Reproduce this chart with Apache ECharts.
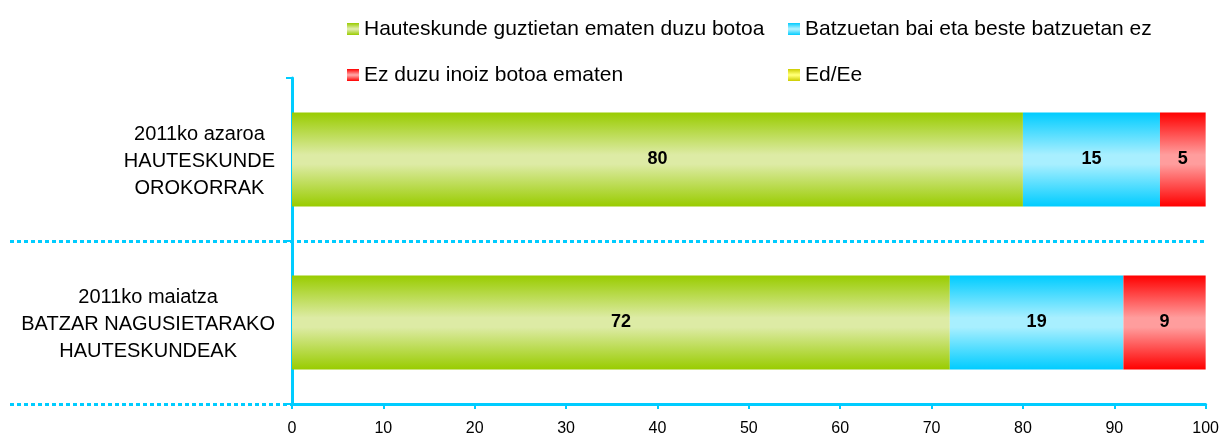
<!DOCTYPE html>
<html>
<head>
<meta charset="utf-8">
<script src="https://cdn.jsdelivr.net/npm/echarts@6/dist/echarts.min.js"></script>
<style>
    html, body { margin: 0; padding: 0; background: #fff; }
    #mychart { width: 1222px; height: 438px; overflow: hidden; }
</style>
</head>
<body>
<div id="mychart"></div>
<script>
    // categories bottom -> top (category axis grows upward)
    var categories = ['2011ko maiatza\nBATZAR NAGUSIETARAKO\nHAUTESKUNDEAK', '2011ko azaroa\nHAUTESKUNDE\nOROKORRAK']
    var names = ['Hauteskunde guztietan ematen duzu botoa', 'Batzuetan bai eta beste batzuetan ez', 'Ez duzu inoiz botoa ematen', 'Ed/Ee']
    var alwaysVote = [72, 80]
    var sometimesVote = [19, 15]
    var neverVote = [9, 5]
    var dontKnow = [0, 0]
    var xMin = 0, xMax = 100, xStep = 10

    var values = [alwaysVote, sometimesVote, neverVote, dontKnow]
    var edge = ['#99CC00', '#00CCFF', '#FF0000', '#CCCC00']
    var center = ['#DDEBA5', '#A8EFFF', '#FF9D9D', '#FFFF70']
    var axisColor = '#00CCFF'
    var font = '"Liberation Sans", Arial, sans-serif'

    function grad(i) {
        return new echarts.graphic.LinearGradient(0, 0, 0, 1, [
            {offset: 0, color: edge[i]},
            {offset: 0.45, color: center[i]},
            {offset: 0.55, color: center[i]},
            {offset: 1, color: edge[i]}
        ])
    }

    var series = []
    for (var i = 0; i < names.length; i++) {
        series.push({
            name: names[i],
            type: 'bar',
            stack: 'total',
            xAxisIndex: 1,
            yAxisIndex: 1,
            barWidth: 94,
            itemStyle: {color: grad(i)},
            label: {
                show: true,
                position: 'inside',
                color: '#000',
                fontWeight: 'bold',
                fontSize: 18,
                fontFamily: font,
                formatter: function (p) {
                    return p.value ? p.value : ''
                }
            },
            emphasis: {disabled: true},
            data: values[i]
        })
    }

    var legendBase = {
        orient: 'vertical',
        top: 17,
        padding: 0,
        itemGap: 22,
        itemWidth: 12,
        itemHeight: 12,
        icon: 'rect',
        selectedMode: false,
        textStyle: {fontSize: 21, lineHeight: 24, color: '#000', fontFamily: font}
    }

    var myChart = echarts.init(document.getElementById('mychart'))
    var option = {
        backgroundColor: '#fff',
        animation: false,
        legend: [
            Object.assign({}, legendBase, {left: 347, data: [names[0], names[2]]}),
            Object.assign({}, legendBase, {left: 788, data: [names[1], names[3]]})
        ],
        grid: [
            {left: 10, right: 16, top: 78, bottom: 34},
            {left: 292, right: 16, top: 78, bottom: 34}
        ],
        xAxis: [
            {gridIndex: 0, type: 'value', min: xMin, max: xMax, show: false},
            {
                gridIndex: 1,
                type: 'value',
                min: xMin,
                max: xMax,
                interval: xStep,
                axisLine: {show: true, lineStyle: {color: axisColor, width: 3}},
                axisTick: {show: true, length: 5, lineStyle: {color: axisColor, width: 2}},
                axisLabel: {margin: 17, color: '#000', fontSize: 16, fontFamily: font},
                splitLine: {show: false}
            }
        ],
        yAxis: [
            {
                gridIndex: 0,
                type: 'category',
                data: categories,
                axisLine: {show: false},
                axisTick: {show: false},
                axisLabel: {show: false},
                splitLine: {
                    show: true,
                    showMaxLine: false,
                    lineStyle: {color: axisColor, width: 3, type: [4, 3]}
                }
            },
            {
                gridIndex: 1,
                type: 'category',
                data: categories,
                axisLine: {show: true, lineStyle: {color: axisColor, width: 3}},
                axisTick: {show: true, length: 6, lineStyle: {color: axisColor, width: 2}},
                splitLine: {show: false},
                axisLabel: {
                    margin: 17,
                    formatter: function (v) {
                        return '{c|' + v + '}'
                    },
                    rich: {
                        c: {align: 'center', fontSize: 20, lineHeight: 27, color: '#000', fontFamily: font, padding: [4, 0, 0, 0]}
                    }
                }
            }
        ],
        series: series
    }
    myChart.setOption(option)
</script>
</body>
</html>
